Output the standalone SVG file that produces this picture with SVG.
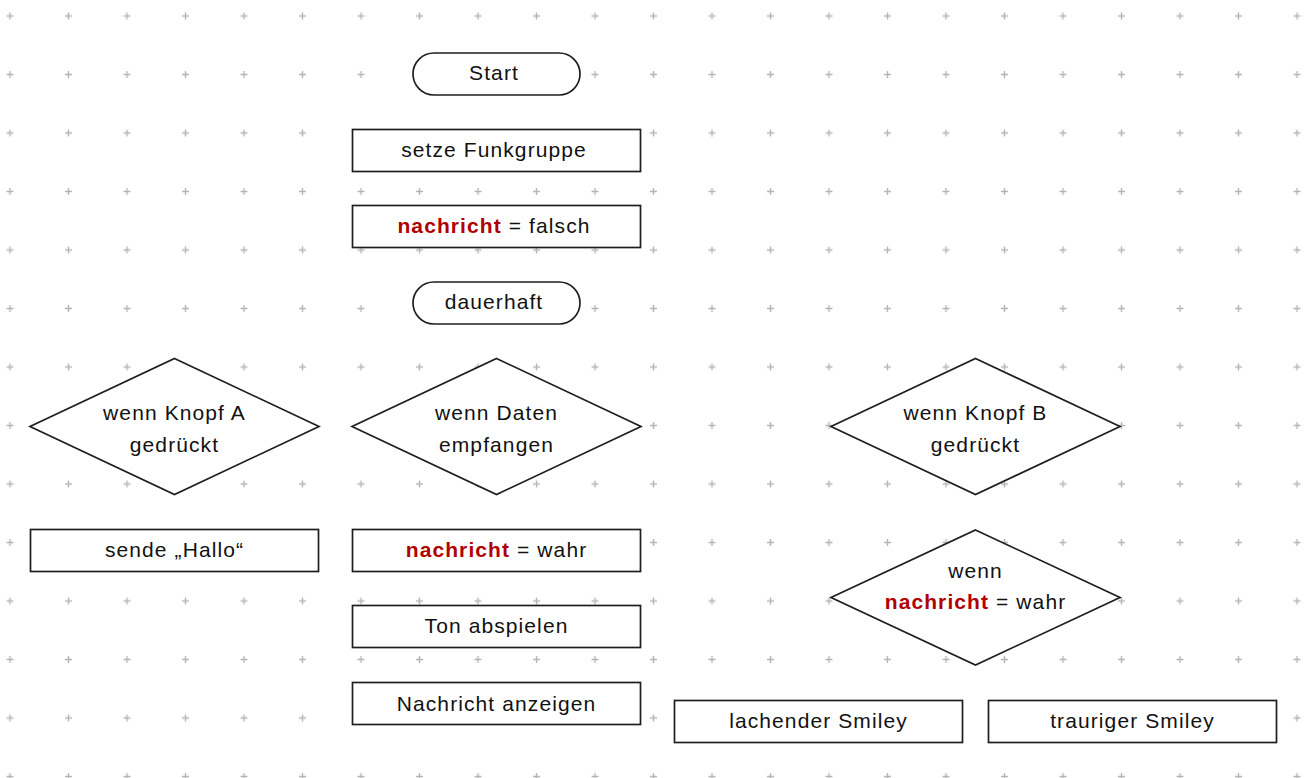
<svg xmlns="http://www.w3.org/2000/svg" width="1309" height="778" viewBox="0 0 1309 778">
<defs>
<pattern id="grid" patternUnits="userSpaceOnUse" x="-19.25" y="-13.25" width="58.5" height="58.5">
<path d="M25.75 29.25h7M29.25 25.75v7" stroke="#b5b5b5" stroke-width="1.4" fill="none"/>
</pattern>
<style>
.s{fill:#fff;stroke:#1e1e1e;stroke-width:1.7}
.t{font-family:"Liberation Sans","DejaVu Sans",sans-serif;font-size:21px;letter-spacing:1.1px;fill:#111;text-anchor:middle}
.r{fill:#b00000;font-weight:bold}
</style>
</defs>
<rect width="1309" height="778" fill="#fff"/>
<rect width="1309" height="778" fill="url(#grid)"/>
<g id="connectors"></g>
<g id="start"><rect class="s" x="413" y="53" width="167" height="42" rx="21"/><text class="t" x="494" y="80">Start</text></g>
<g id="funkgruppe"><rect class="s" x="352.5" y="129.5" width="288" height="42"/><text class="t" x="494" y="157">setze Funkgruppe</text></g>
<g id="falsch"><rect class="s" x="352.5" y="205.5" width="288" height="42"/><text class="t" x="494" y="233"><tspan class="r">nachricht</tspan> = falsch</text></g>
<g id="dauerhaft"><rect class="s" x="413" y="282" width="167" height="42" rx="21"/><text class="t" x="494" y="309">dauerhaft</text></g>
<g id="knopfA"><polygon class="s" points="174.5,358.5 319,426.5 174.5,494.5 30,426.5"/><text class="t" x="174.5" y="420">wenn Knopf A</text><text class="t" x="174.5" y="452">gedrückt</text></g>
<g id="daten"><polygon class="s" points="496.5,358.5 641,426.5 496.5,494.5 352,426.5"/><text class="t" x="496.5" y="420">wenn Daten</text><text class="t" x="496.5" y="452">empfangen</text></g>
<g id="knopfB"><polygon class="s" points="975.5,358.5 1120,426.5 975.5,494.5 831,426.5"/><text class="t" x="975.5" y="420">wenn Knopf B</text><text class="t" x="975.5" y="452">gedrückt</text></g>
<g id="hallo"><rect class="s" x="30.5" y="529.5" width="288" height="42"/><text class="t" x="174.5" y="557">sende „Hallo“</text></g>
<g id="wahr"><rect class="s" x="352.5" y="529.5" width="288" height="42"/><text class="t" x="496.5" y="557"><tspan class="r">nachricht</tspan> = wahr</text></g>
<g id="ton"><rect class="s" x="352.5" y="605.5" width="288" height="42"/><text class="t" x="496.5" y="633">Ton abspielen</text></g>
<g id="anzeigen"><rect class="s" x="352.5" y="682.5" width="288" height="42"/><text class="t" x="496.5" y="711">Nachricht anzeigen</text></g>
<g id="wennwahr"><polygon class="s" points="975.5,530 1120,597.5 975.5,665 831,597.5"/><text class="t" x="975.5" y="578">wenn</text><text class="t" x="975.5" y="609"><tspan class="r">nachricht</tspan> = wahr</text></g>
<g id="lachend"><rect class="s" x="674.5" y="700.5" width="288" height="42"/><text class="t" x="818.5" y="728">lachender Smiley</text></g>
<g id="traurig"><rect class="s" x="988.5" y="700.5" width="288" height="42"/><text class="t" x="1132.5" y="728">trauriger Smiley</text></g>
</svg>
